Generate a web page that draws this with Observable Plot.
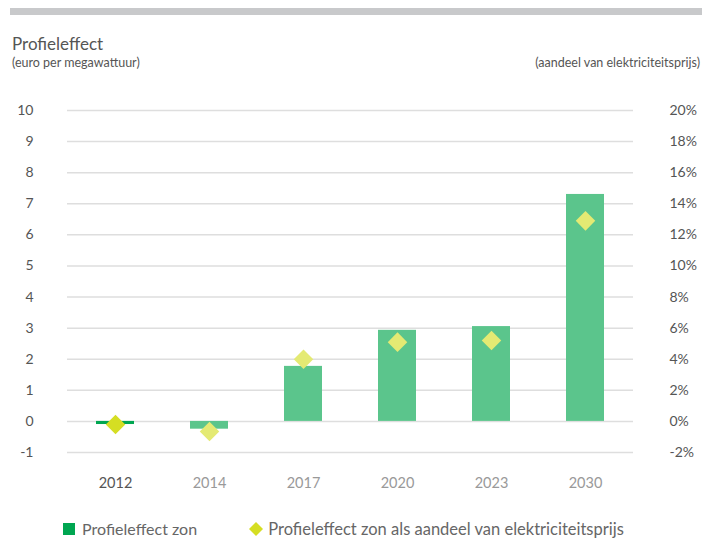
<!DOCTYPE html>
<html>
<head>
<meta charset="utf-8">
<script src="https://cdn.jsdelivr.net/npm/d3@7"></script>
<script src="https://cdn.jsdelivr.net/npm/@observablehq/plot@0.6"></script>
<style>
  body { margin: 0; background: #fff; font-family: Lato, "Open Sans", sans-serif; }
  #wrap { position: relative; width: 702px; height: 538px; overflow: hidden; }
  .abs { position: absolute; white-space: nowrap; color: #555; }
  #bar { position: absolute; left: 10px; top: 8px; width: 692px; height: 7px; background: #c8c9cb; }
  #chart { position: absolute; left: 0; top: 0; }
  .sw { display: inline-block; vertical-align: middle; }
</style>
</head>
<body>
<div id="wrap">
  <div id="bar"></div>
  <div id="chart"></div>
  <div class="abs" style="left:12px;top:33px;font-size:17px;">Profieleffect</div>
  <div class="abs" style="left:12px;top:55px;font-size:12.5px;">(euro per megawattuur)</div>
  <div class="abs" style="right:2px;top:55px;font-size:12.5px;">(aandeel van elektriciteitsprijs)</div>
  <div class="abs" style="left:63px;top:519px;font-size:16px;color:#666;">
    <svg class="sw" width="12" height="12" style="margin-top:-3px"><rect width="12" height="12" fill="#00a651"/></svg>
    <span style="margin-left:3px">Profieleffect zon</span>
  </div>
  <div class="abs" style="left:249px;top:519px;font-size:16.5px;color:#666;">
    <svg class="sw" width="14" height="14" style="margin-top:-3px"><path d="M7 0 L14 7 L7 14 L0 7 Z" fill="#d5de23"/></svg>
    <span style="margin-left:1px">Profieleffect zon als aandeel van elektriciteitsprijs</span>
  </div>
</div>
<script>
const years = ["2012", "2014", "2017", "2020", "2023", "2030"];
const profielEuro = [-0.1, -0.25, 1.77, 2.93, 3.05, 7.3];     // euro per MWh
const profielPct = [-0.2, -0.65, 4.0, 5.1, 5.2, 12.9];         // % van elektriciteitsprijs
const leftTicks = [-1, 0, 1, 2, 3, 4, 5, 6, 7, 8, 9, 10];
const rightTicks = [-2, 0, 2, 4, 6, 8, 10, 12, 14, 16, 18, 20];
const highlight = "2012";

const data = years.map((y, i) => ({
  year: y, euro: profielEuro[i], pct: profielPct[i], hi: y === highlight
}));

const chart = Plot.plot({
  width: 702,
  height: 538,
  marginTop: 110,
  marginBottom: 86,
  marginLeft: 67,
  marginRight: 69,
  style: { fontFamily: "Lato, 'Open Sans', sans-serif", background: "transparent" },
  x: { domain: years, paddingInner: 0.6, paddingOuter: 0.3, align: 0.5, axis: null },
  y: { domain: [-1, 10], axis: null },
  marks: [
    Plot.ruleY(leftTicks, { stroke: "#dedede", strokeWidth: 1.5 }),
    Plot.barY(data, {
      x: "year", y1: 0, y2: "euro",
      fill: d => d.hi ? "#00a651" : "#5bc58c"
    }),
    Plot.dot(data, {
      x: "year", y: d => d.pct / 2, symbol: "diamond2", r: 8.8,
      fill: d => d.hi ? "#d5de23" : "#e4ea73", stroke: null
    }),
    Plot.axisY({
      anchor: "left", ticks: leftTicks, tickSize: 0, tickPadding: 34,
      fontSize: 14, color: "#555", label: null, tickFormat: d => String(d)
    }),
    Plot.axisY({
      anchor: "right", ticks: rightTicks.map(p => p / 2), tickSize: 0, tickPadding: 36,
      fontSize: 14, color: "#555", label: null, tickFormat: d => `${d * 2}%`
    }),
    Plot.text(data, {
      x: "year", frameAnchor: "bottom", dy: 31, text: "year",
      fontSize: 14.5, fill: d => d.hi ? "#555" : "#999", lineAnchor: "middle"
    })
  ]
});
document.getElementById("chart").appendChild(chart);
</script>
</body>
</html>
